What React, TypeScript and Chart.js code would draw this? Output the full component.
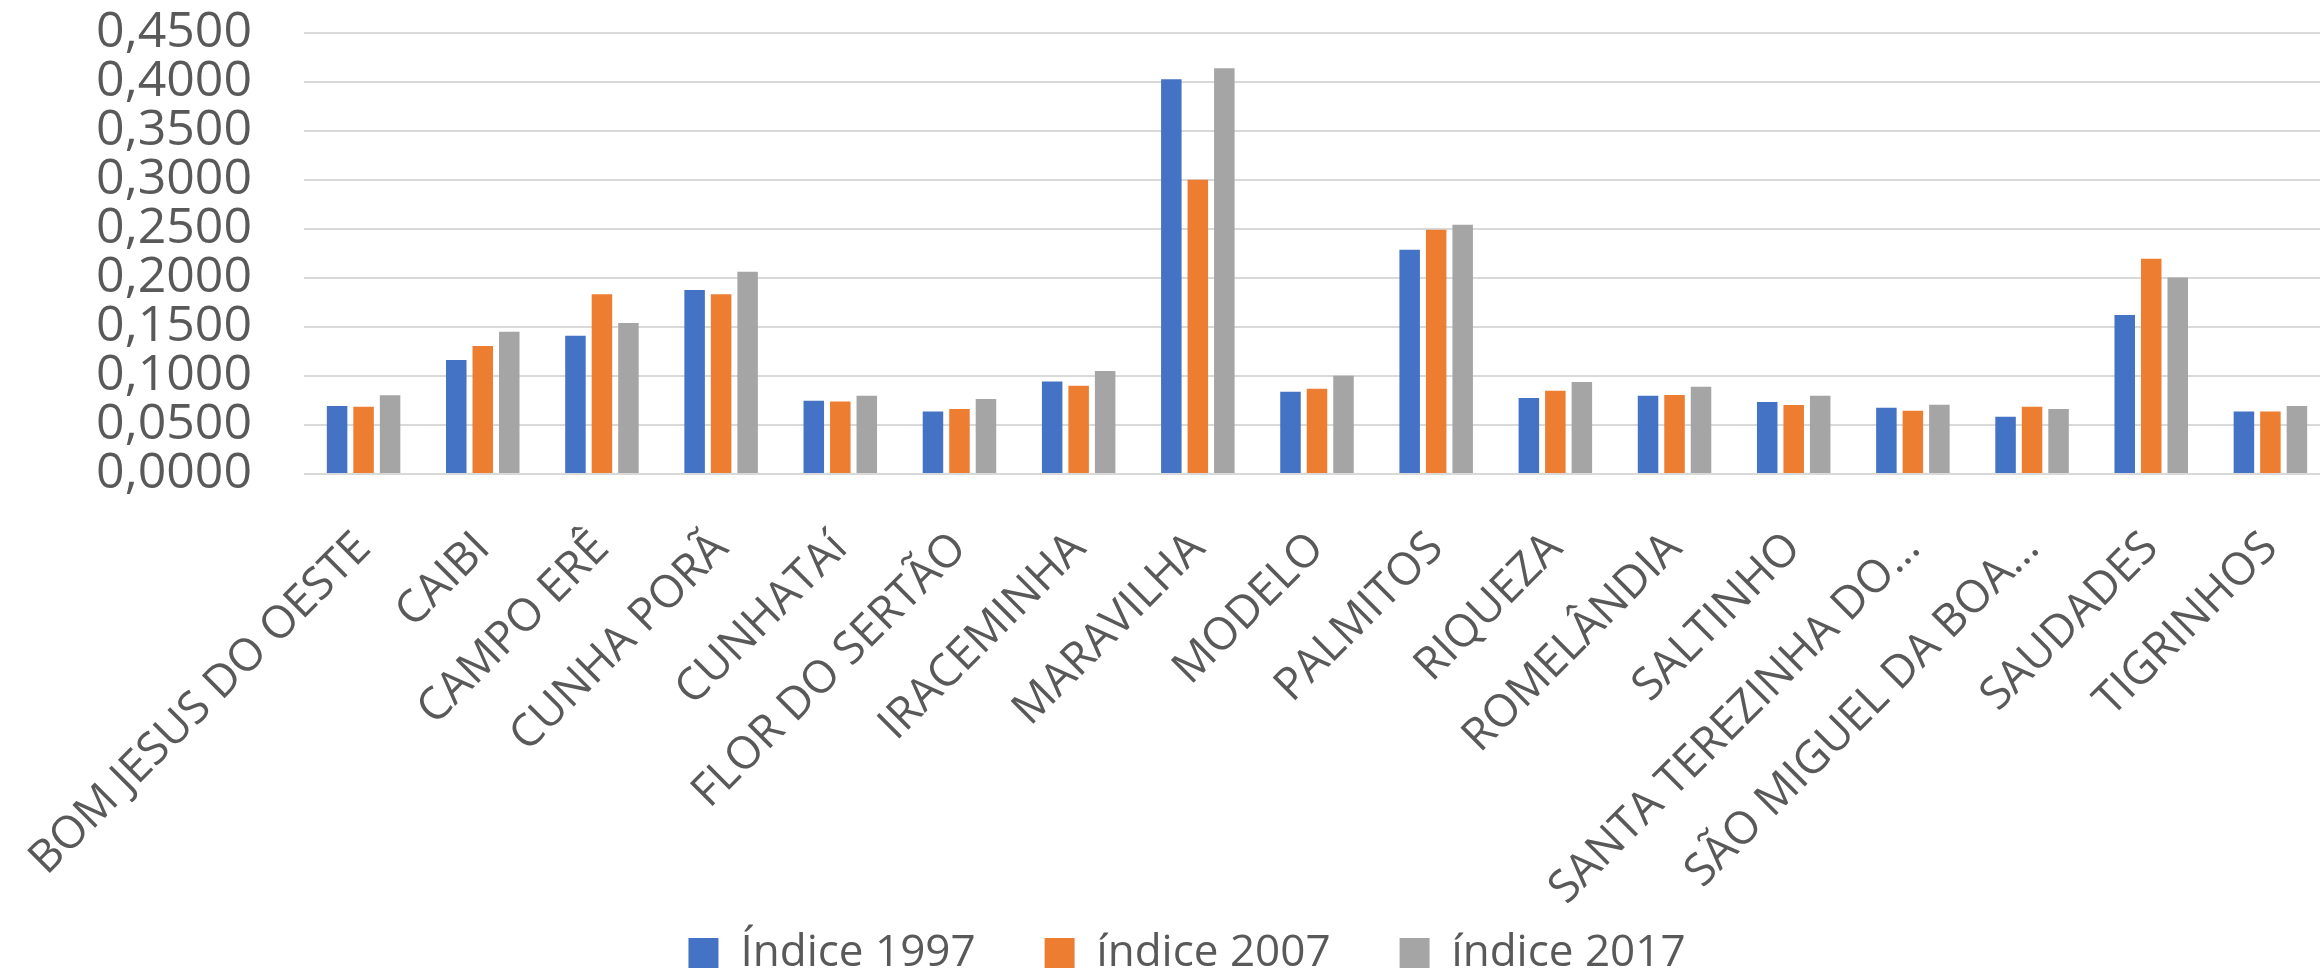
import React, { useEffect, useRef } from 'react';
import { Chart, registerables } from 'chart.js';

Chart.register(...registerables);

const categories = [
  'BOM JESUS DO OESTE',
  'CAIBI',
  'CAMPO ERÊ',
  'CUNHA PORÃ',
  'CUNHATAí',
  'FLOR DO SERTÃO',
  'IRACEMINHA',
  'MARAVILHA',
  'MODELO',
  'PALMITOS',
  'RIQUEZA',
  'ROMELÂNDIA',
  'SALTINHO',
  'SANTA TEREZINHA DO…',
  'SÃO MIGUEL DA BOA…',
  'SAUDADES',
  'TIGRINHOS',
];

const seriesNames = ['Índice 1997', 'índice 2007', 'índice 2017'];

const indice1997 = [0.0694, 0.1163, 0.1411, 0.1877, 0.0748, 0.0639, 0.0945, 0.4029, 0.084, 0.2288, 0.0775, 0.0799, 0.0734, 0.0677, 0.0585, 0.1622, 0.0639];
const indice2007 = [0.0687, 0.1306, 0.1833, 0.1833, 0.0741, 0.0663, 0.0901, 0.3002, 0.087, 0.2492, 0.085, 0.0806, 0.0704, 0.0646, 0.0687, 0.2197, 0.0639];
const indice2017 = [0.0803, 0.1452, 0.154, 0.2064, 0.0799, 0.0765, 0.1051, 0.4141, 0.1003, 0.2543, 0.0938, 0.0891, 0.0799, 0.0707, 0.0663, 0.2006, 0.0694];

const yTickLabels = ['0,0000', '0,0500', '0,1000', '0,1500', '0,2000', '0,2500', '0,3000', '0,3500', '0,4000', '0,4500'];

const colors = ['#4472C4', '#ED7D31', '#A5A5A5'];
const textColor = '#595959';
const fontFamily = "'Open Sans', 'Liberation Sans', sans-serif";

export default function App() {
  const ref = useRef<HTMLCanvasElement>(null);

  useEffect(() => {
    document.body.style.margin = '0';
    const values = [indice1997, indice2007, indice2017];
    const chart = new Chart(ref.current!, {
      type: 'bar',
      data: {
        labels: categories,
        datasets: values.map((d, i) => ({
          label: seriesNames[i],
          data: d,
          backgroundColor: colors[i],
          borderWidth: 0,
          categoryPercentage: 0.667,
          barPercentage: 0.774,
        })),
      },
      options: {
        animation: false,
        responsive: false,
        devicePixelRatio: 1,
        layout: { padding: { left: 44, right: 10, top: 33, bottom: 0 } },
        plugins: {
          legend: {
            position: 'bottom',
            labels: {
              boxWidth: 30,
              boxHeight: 30,
              padding: 69,
              color: textColor,
              font: { family: fontFamily, size: 44, lineHeight: 1 },
            },
          },
          tooltip: { enabled: false },
        },
        scales: {
          x: {
            grid: { display: false },
            border: { display: false },
            ticks: {
              minRotation: 45,
              maxRotation: 45,
              autoSkip: false,
              padding: 40,
              color: textColor,
              font: { family: fontFamily, size: 45 },
            },
            afterFit: (s: any) => {
              s.height = 388;
              s.paddingLeft = 0;
              s.paddingRight = 0;
              s._computeLabelArea = () => undefined;
            },
          },
          y: {
            min: 0,
            max: 0.45,
            ticks: {
              stepSize: 0.05,
              autoSkip: false,
              padding: 52,
              color: textColor,
              font: { family: fontFamily, size: 50, lineHeight: 1 },
              callback: (v: any, i: number) => yTickLabels[i] ?? Number(v).toFixed(4).replace('.', ','),
            },
            grid: { color: '#d9d9d9', lineWidth: 2, drawTicks: false },
            border: { display: false },
            afterFit: (s: any) => {
              s.width = 260;
              s.paddingTop = 0;
              s.paddingBottom = 0;
            },
          },
        },
      },
    });
    return () => chart.destroy();
  }, []);

  return (
    <div style={{ width: 2320, height: 975, overflow: 'hidden', position: 'relative' }}>
      <canvas ref={ref} width={2340} height={985} style={{ display: 'block' }} />
    </div>
  );
}
